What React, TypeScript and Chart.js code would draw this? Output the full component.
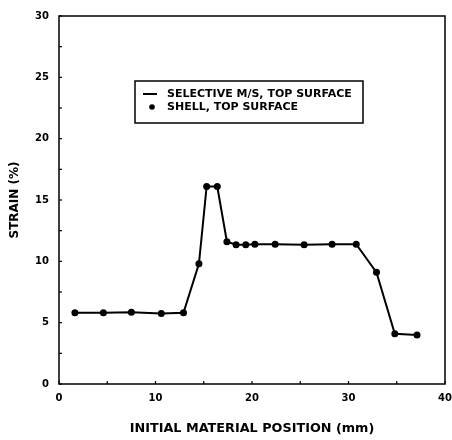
import React, { useEffect, useRef } from "react";
import { Chart, registerables } from "chart.js";

Chart.register(...registerables);

const positions = [1.65, 4.6, 7.5, 10.6, 12.9, 14.5, 15.3, 16.4, 17.4, 18.35, 19.35, 20.3, 22.4, 25.4, 28.3, 30.8, 32.9, 34.8, 37.1];
const strains = [5.8, 5.8, 5.85, 5.75, 5.8, 9.8, 16.1, 16.1, 11.6, 11.35, 11.35, 11.4, 11.4, 11.35, 11.4, 11.4, 9.1, 4.1, 4.0];
const lineLabel = "SELECTIVE M/S, TOP SURFACE";
const pointLabel = "SHELL, TOP SURFACE";
const xTitle = "INITIAL MATERIAL POSITION (mm)";
const yTitle = "STRAIN (%)";

const FONT = "'DejaVu Sans', 'Liberation Sans', sans-serif";

const boxPlugin = {
  id: "boxPlugin",
  afterDraw(chart: any) {
    const { ctx, chartArea: a, scales } = chart;
    ctx.save();
    ctx.strokeStyle = "#000";
    ctx.lineWidth = 1.5;
    ctx.strokeRect(a.left, a.top, a.right - a.left, a.bottom - a.top);
    // inside ticks
    ctx.lineWidth = 1.2;
    for (let v = 0; v <= 30; v += 2.5) {
      const y = scales.y.getPixelForValue(v);
      ctx.beginPath();
      ctx.moveTo(a.left, y);
      ctx.lineTo(a.left + 3, y);
      ctx.stroke();
    }
    for (let v = 0; v <= 40; v += 5) {
      const x = scales.x.getPixelForValue(v);
      ctx.beginPath();
      ctx.moveTo(x, a.bottom);
      ctx.lineTo(x, a.bottom - 3);
      ctx.stroke();
    }
    // legend box
    const bx = a.left + 76;
    const by = a.top + 65;
    const bw = 228;
    const bh = 42;
    ctx.fillStyle = "#fff";
    ctx.fillRect(bx, by, bw, bh);
    ctx.lineWidth = 1.5;
    ctx.strokeRect(bx, by, bw, bh);
    const r1 = by + 13;
    const r2 = by + 26;
    ctx.lineWidth = 2;
    ctx.beginPath();
    ctx.moveTo(bx + 8, r1);
    ctx.lineTo(bx + 22, r1);
    ctx.stroke();
    ctx.fillStyle = "#000";
    ctx.beginPath();
    ctx.arc(bx + 17, r2, 2.8, 0, Math.PI * 2);
    ctx.fill();
    ctx.font = `bold 11px ${FONT}`;
    ctx.textBaseline = "middle";
    ctx.textAlign = "left";
    ctx.fillText(lineLabel, bx + 32, r1);
    ctx.fillText(pointLabel, bx + 32, r2);
    ctx.restore();
  },
};

export default function App() {
  const ref = useRef<HTMLCanvasElement>(null);
  useEffect(() => {
    const chart = new Chart(ref.current!, {
      type: "line",
      data: {
        datasets: [
          {
            label: lineLabel,
            data: positions.map((x, i) => ({ x, y: strains[i] })),
            borderColor: "#000",
            borderWidth: 2,
            pointRadius: 0,
            tension: 0,
          },
          {
            label: pointLabel,
            data: positions.map((x, i) => ({ x, y: strains[i] })),
            showLine: false,
            pointRadius: 3.5,
            pointBackgroundColor: "#000",
            pointBorderColor: "#000",
            pointBorderWidth: 0,
          },
        ],
      },
      options: {
        animation: false,
        responsive: false,
        layout: { padding: { top: 13, right: 7, left: 0, bottom: 0 } },
        plugins: { legend: { display: false }, tooltip: { enabled: false } },
        scales: {
          x: {
            type: "linear",
            min: 0,
            max: 40,
            grid: { display: false, drawTicks: false },
            border: { display: false },
            ticks: { stepSize: 10, color: "#000", padding: 8, font: { family: FONT, weight: "bold", size: 10 } },
            title: { display: true, text: xTitle, color: "#000", padding: { top: 0, bottom: 4 }, font: { family: FONT, weight: "bold", size: 12.8 } },
            afterFit(s: any) {
              s.height = 56;
              s.paddingLeft = 0;
              s.paddingRight = 0;
            },
          },
          y: {
            min: 0,
            max: 30,
            grid: { display: false, drawTicks: false },
            border: { display: false },
            ticks: { stepSize: 5, color: "#000", padding: 10, font: { family: FONT, weight: "bold", size: 10 } },
            title: { display: true, text: yTitle, color: "#000", padding: { top: 8, bottom: 0 }, font: { family: FONT, weight: "bold", size: 12 } },
            afterFit(s: any) {
              s.width = 59;
            },
          },
        },
      },
      plugins: [boxPlugin],
    } as any);
    return () => chart.destroy();
  }, []);
  return (
    <canvas
      ref={ref}
      width={452}
      height={440}
      style={{ position: "absolute", left: 0, top: 0, width: 452, height: 440 }}
    />
  );
}
